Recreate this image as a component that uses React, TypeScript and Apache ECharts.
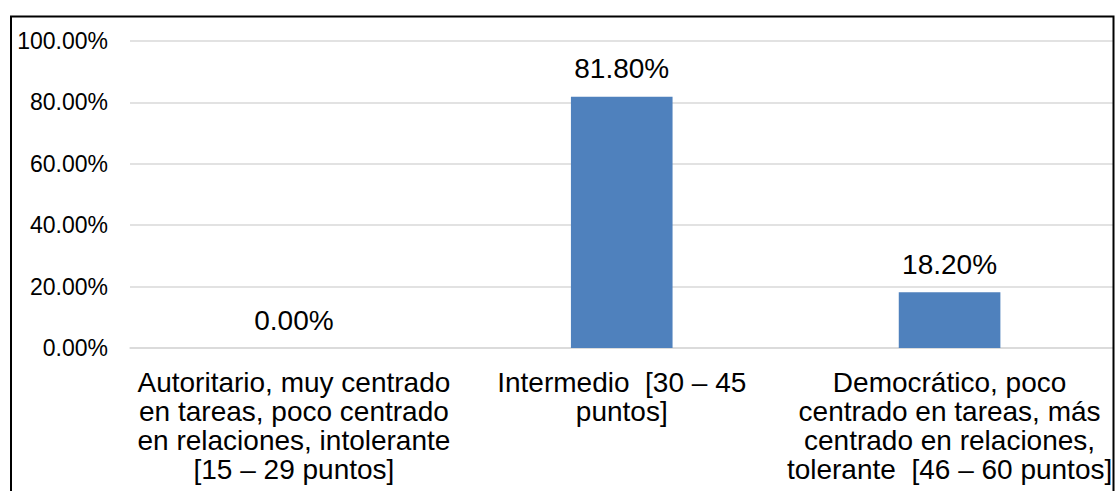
import React, { useEffect, useRef } from "react";
import * as echarts from "echarts";

const categories = [
  "Autoritario, muy centrado\nen tareas, poco centrado\nen relaciones, intolerante\n[15 – 29 puntos]",
  "Intermedio  [30 – 45\npuntos]",
  "Democrático, poco\ncentrado en tareas, más\ncentrado en relaciones,\ntolerante  [46 – 60 puntos]",
];
const values = [0, 81.8, 18.2];
const yTicks = { min: 0, max: 100, interval: 20 };

const FONT = "'Liberation Sans', Arial, sans-serif";

export default function App() {
  const ref = useRef<HTMLDivElement>(null);
  useEffect(() => {
    if (!ref.current) return;
    const chart = echarts.init(ref.current, null, { renderer: "svg" });
    chart.setOption({
      animation: false,
      backgroundColor: "#ffffff",
      grid: { left: 130, right: 0, top: 41, bottom: 143, containLabel: false },
      xAxis: {
        type: "category",
        data: categories,
        axisLine: { show: true, lineStyle: { color: "#d9d9d9", width: 1.5 } },
        axisTick: { show: false },
        axisLabel: {
          interval: 0,
          color: "#000",
          fontFamily: FONT,
          fontSize: 28,
          lineHeight: 29,
          margin: 20,
          align: "center",
        },
      },
      yAxis: {
        type: "value",
        min: yTicks.min,
        max: yTicks.max,
        interval: yTicks.interval,
        axisLine: { show: false },
        axisTick: { show: false },
        splitLine: { show: true, lineStyle: { color: "#d9d9d9", width: 1.5 } },
        axisLabel: {
          color: "#000",
          fontFamily: FONT,
          fontSize: 23,
          margin: 22,
          formatter: (v: number) => v.toFixed(2) + "%",
        },
      },
      series: [
        {
          type: "bar",
          data: values,
          barWidth: "31%",
          itemStyle: { color: "#4f81bd", borderWidth: 0 },
          label: {
            show: true,
            position: "top",
            distance: 14,
            color: "#000",
            fontFamily: FONT,
            fontSize: 28,
            formatter: (p: any) => Number(p.value).toFixed(2) + "%",
          },
        },
      ],
      graphic: [
        {
          type: "rect",
          silent: true,
          shape: { x: 11, y: 16.5, width: 1102.5, height: 520 },
          style: { fill: "none", stroke: "#000", lineWidth: 2 },
          z: 100,
        },
      ],
    });
    return () => chart.dispose();
  }, []);
  return (
    <div
      ref={ref}
      style={{ position: "fixed", left: 0, top: 0, width: 1115, height: 491 }}
    />
  );
}
